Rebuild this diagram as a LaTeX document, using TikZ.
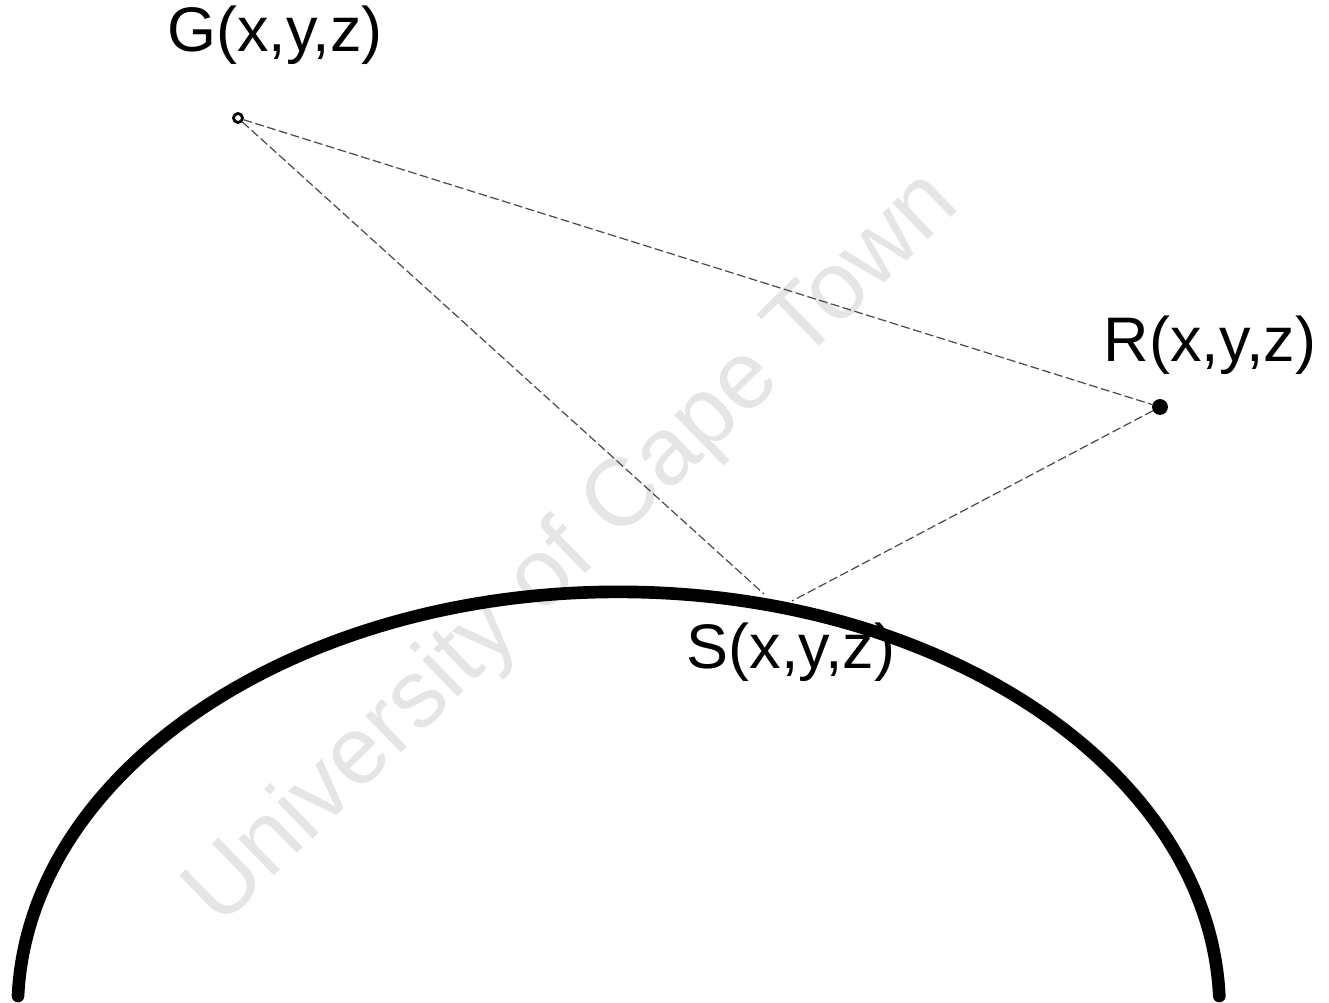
\documentclass[tikz,border=0pt]{standalone}
\usepackage{fontspec}
\setmainfont{Liberation Sans}
\usetikzlibrary{positioning}

\begin{document}
\begin{tikzpicture}[
    x=0.01cm, y=-0.01cm,
    point/.style={circle, draw=black, line width=0.8pt, inner sep=0pt, minimum size=0.09cm},
    ray/.style={line width=0.35pt, black!70, dash pattern=on 2.5pt off 1pt},
    lbl/.style={font=\fontsize{17.9}{20}\selectfont, inner sep=0pt},
    surface/.style={line width=3.6pt, line cap=round},
    wmark/.style={font=\fontsize{27.3}{30}\selectfont, text=black!10, inner sep=0pt}
]
\useasboundingbox (0,0) rectangle (1329,1003);

% Watermark
\node[wmark, rotate=44.2] (uct) at (574,550) {University of Cape Town};

% Surface
\draw[surface] (18,996) arc[start angle=181.9, end angle=358.1, x radius=601, y radius=418];

% Points
\node[point, fill=white] (G) at (238,118) {};
\node[point, fill=black, minimum size=0.13cm] (R) at (1160,407) {};
\coordinate (Sg) at (764,594);
\coordinate (Sr) at (792,601);

% Labels
\node[lbl] (Glbl) at (275,35) {G(x,y,z)};
\node[lbl] (Rlbl) at (1210,345) {R(x,y,z)};
\node[lbl] (Slbl) at (791,652) {S(x,y,z)};

% Rays
\draw[ray] (G) -- (R);
\draw[ray] (G) -- (Sg);
\draw[ray] (R) -- (Sr);

\end{tikzpicture}
\end{document}
